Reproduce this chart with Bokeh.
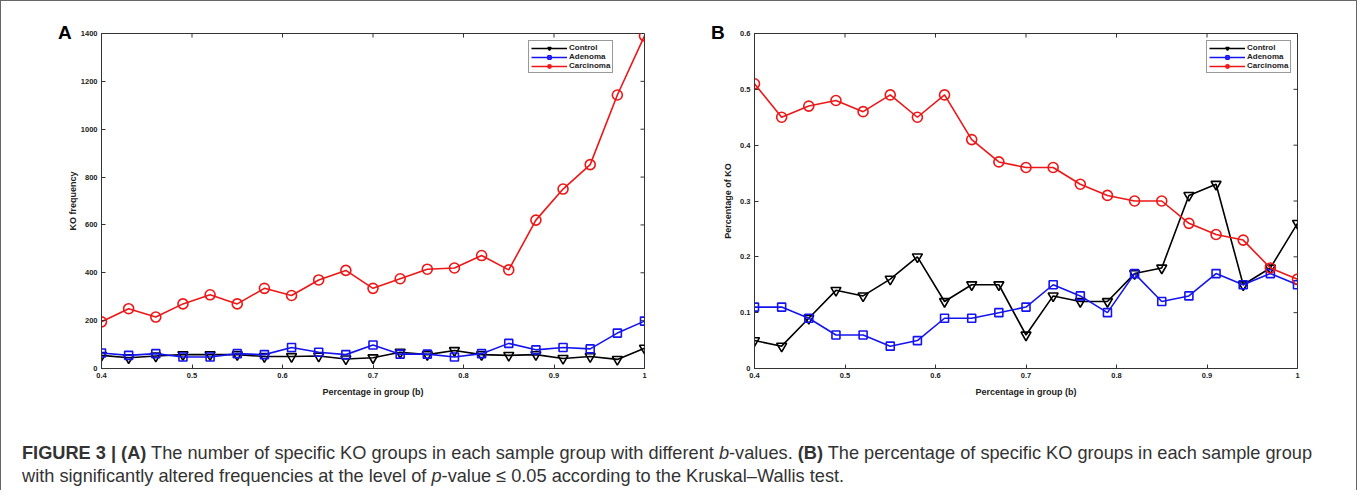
import math
from bokeh.plotting import figure
from bokeh.models import (FixedTicker, Legend, LegendItem, Div, Range1d)
from bokeh.layouts import row, column
from bokeh.embed import file_html
from bokeh.resources import INLINE

# ---------------- data ----------------
b_values = [0.40, 0.43, 0.46, 0.49, 0.52, 0.55, 0.58, 0.61, 0.64, 0.67, 0.70,
            0.73, 0.76, 0.79, 0.82, 0.85, 0.88, 0.91, 0.94, 0.97, 1.00]

series_names = ["Control", "Adenoma", "Carcinoma"]

# Panel A: KO frequency
control_freq = [55, 45, 52, 58, 58, 58, 50, 50, 52, 40, 45,
                68, 58, 75, 58, 55, 58, 42, 50, 38, 85]
adenoma_freq = [65, 55, 62, 48, 48, 62, 58, 88, 68, 58, 98,
                60, 60, 48, 62, 105, 78, 88, 82, 148, 198]
carcinoma_freq = [195, 250, 215, 270, 308, 270, 335, 305, 370, 410, 335,
                  375, 415, 420, 472, 412, 620, 750, 852, 1143, 1390]

# Panel B: percentage of KO
control_pct = [0.05, 0.04, 0.09, 0.14, 0.13, 0.16, 0.20, 0.12, 0.15, 0.15, 0.06,
               0.13, 0.12, 0.12, 0.17, 0.18, 0.31, 0.33, 0.15, 0.18, 0.26]
adenoma_pct = [0.11, 0.11, 0.09, 0.06, 0.06, 0.04, 0.05, 0.09, 0.09, 0.10, 0.11,
               0.15, 0.13, 0.10, 0.17, 0.12, 0.13, 0.17, 0.15, 0.17, 0.15]
carcinoma_pct = [0.51, 0.45, 0.47, 0.48, 0.46, 0.49, 0.45, 0.49, 0.41, 0.37, 0.36,
                 0.36, 0.33, 0.31, 0.30, 0.30, 0.26, 0.24, 0.23, 0.18, 0.16]

x_ticks = [0.4, 0.5, 0.6, 0.7, 0.8, 0.9, 1.0]
x_tick_labels = ["0.4", "0.5", "0.6", "0.7", "0.8", "0.9", "1"]
yA_ticks = [0, 200, 400, 600, 800, 1000, 1200, 1400]
yA_tick_labels = ["0", "200", "400", "600", "800", "1000", "1200", "1400"]
yB_ticks = [0, 0.1, 0.2, 0.3, 0.4, 0.5, 0.6]
yB_tick_labels = ["0", "0.1", "0.2", "0.3", "0.4", "0.5", "0.6"]

panel_letters = ["A", "B"]

# ---------------- styles ----------------
COLORS = ["#000000", "#1414f0", "#ee1616"]
MARKERS = ["inverted_triangle", "square", "circle"]
MSIZE = [10, 8, 10]
AX_COLOR = "#333333"
TICK_FONT = "Liberation Sans"
FRAME_W = 543
FRAME_H = 335


def style_axis(ax, ticks, labels):
    ax.ticker = FixedTicker(ticks=ticks)
    ax.major_label_overrides = {t: l for t, l in zip(ticks, labels)}
    ax.major_tick_in = 4
    ax.major_tick_out = 0
    ax.minor_tick_in = 0
    ax.minor_tick_out = 0
    ax.axis_line_color = AX_COLOR
    ax.major_tick_line_color = AX_COLOR
    ax.major_label_text_font = TICK_FONT
    ax.major_label_text_font_style = "bold"
    ax.major_label_text_color = "#222222"
    ax.major_label_standoff = 4
    ax.major_label_text_font_size = "7.5px"


def make_panel(border_left, border_right, ymax, yticks, ylabels, ys,
               ylabel, legend_loc, ylabel_standoff):
    p = figure(frame_width=FRAME_W, frame_height=FRAME_H,
               x_range=Range1d(0.4, 1.0), y_range=Range1d(0, ymax),
               output_backend="svg", toolbar_location=None,
               min_border_left=border_left, min_border_right=border_right,
               min_border_top=32, min_border_bottom=50)
    p.xgrid.visible = False
    p.ygrid.visible = False
    p.outline_line_color = AX_COLOR
    p.background_fill_color = "white"
    p.border_fill_color = "white"

    style_axis(p.xaxis[0], x_ticks, x_tick_labels)
    style_axis(p.yaxis[0], yticks, ylabels)
    p.xaxis[0].axis_label = "Percentage in group (b)"
    p.yaxis[0].axis_label = ylabel
    for ax in (p.xaxis[0], p.yaxis[0]):
        ax.axis_label_text_font = TICK_FONT
        ax.axis_label_text_font_size = "9px"
        ax.axis_label_text_font_style = "bold"
        ax.axis_label_text_color = "#222222"
    p.xaxis[0].axis_label_standoff = 6
    p.yaxis[0].axis_label_standoff = ylabel_standoff

    # inward ticks on the top and right edges of the box (MATLAB style)
    p.ray(x=x_ticks, y=[ymax] * len(x_ticks), length=4, length_units="screen",
          angle=-math.pi / 2, line_color=AX_COLOR, line_width=1)
    p.ray(x=[1.0] * len(yticks), y=yticks, length=4, length_units="screen",
          angle=math.pi, line_color=AX_COLOR, line_width=1)

    items = []
    for name, yv, col, mk, ms in zip(series_names, ys, COLORS, MARKERS, MSIZE):
        ln = p.line(b_values, yv, line_color=col, line_width=1.6)
        sc = p.scatter(b_values, yv, marker=mk, size=ms, line_color=col,
                       line_width=1.6, fill_alpha=0)
        items.append(LegendItem(label=name, renderers=[ln, sc]))

    leg = Legend(items=items, location=legend_loc)
    leg.border_line_color = AX_COLOR
    leg.border_line_width = 1
    leg.background_fill_color = "white"
    leg.background_fill_alpha = 1
    leg.label_text_font = TICK_FONT
    leg.label_text_font_size = "8px"
    leg.label_text_font_style = "bold"
    leg.label_text_color = "#222222"
    leg.glyph_width = 36
    leg.glyph_height = 8
    leg.label_height = 8
    leg.label_standoff = 2
    leg.spacing = 0
    leg.padding = 2
    leg.margin = 0
    p.add_layout(leg)
    return p


pA = make_panel(100, 27, 1400, yA_ticks, yA_tick_labels,
                [control_freq, adenoma_freq, carcinoma_freq],
                "KO frequency", (427, 295), 0)
pB = make_panel(83, 49, 0.6, yB_ticks, yB_tick_labels,
                [control_pct, adenoma_pct, carcinoma_pct],
                "Percentage of KO", (452, 295), 4)

letter_style = ("position:absolute;top:-401px;font-family:'Liberation Sans',Arial,sans-serif;"
                "font-size:19px;line-height:22px;font-weight:bold;color:#000;")
caption_html = (
    '<div style="position:relative;font-family:\'Liberation Sans\',Arial,sans-serif;'
    'font-size:18.2px;line-height:23px;color:#333333;white-space:nowrap;padding:19px 0 0 16px;">'
    f'<span style="{letter_style}left:52px;">{panel_letters[0]}</span>'
    f'<span style="{letter_style}left:705px;">{panel_letters[1]}</span>'
    '<b>FIGURE 3 | (A)</b> The number of specific KO groups in each sample group with different '
    '<i>b</i>-values. <b>(B)</b> The percentage of specific KO groups in each sample group<br>'
    'with significantly altered frequencies at the level of <i>p</i>-value &le; 0.05 according to '
    'the Kruskal&ndash;Wallis test.</div>'
)
cap = Div(text=caption_html, width=1345, height=62)

layout = column(row(pA, pB), cap,
                styles={"border-left": "1px solid #666666",
                        "border-right": "1px solid #666666",
                        "border-top": "1px solid #666666"})

open("out.html", "w").write(file_html(layout, INLINE))
